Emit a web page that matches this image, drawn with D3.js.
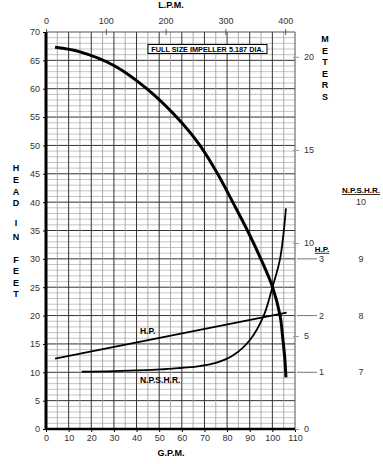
<!DOCTYPE html>
<html>
<head>
<meta charset="utf-8">
<script src="https://cdn.jsdelivr.net/npm/d3@7"></script>
<style>
  body { margin: 0; background: #fff; }
  svg text { font-family: "Liberation Sans", Arial, sans-serif; }
</style>
</head>
<body>
<div id="chart"></div>
<script>
// pump curve data
const gpmTicks = [0, 10, 20, 30, 40, 50, 60, 70, 80, 90, 100, 110];
const headTicks = [0, 5, 10, 15, 20, 25, 30, 35, 40, 45, 50, 55, 60, 65, 70];
const lpmTicks = [0, 100, 200, 300, 400];
const meterTicks = [0, 5, 10, 15, 20];
const hpTicks = [1, 2, 3];
const npshrTicks = [7, 8, 9, 10];

// head in feet vs gpm
const headGpm = [4, 15, 30, 44.5, 60, 68, 75.8, 82.5, 89.0, 94.9, 100.1, 103.4, 104.6, 105.5, 106];
const headFt = [67.3, 66.5, 64.1, 60, 54.0, 50, 45, 40, 35, 30, 25, 20, 16, 12.4, 9.1];

// horsepower vs gpm
const hpGpm = [4, 106.3];
const hpVal = [1.24, 2.05];

// npshr vs gpm
const npshrGpm = [15.8, 30, 50.4, 60, 68, 75.4, 82.7, 90.1, 96, 100.1, 103.4, 106];
const npshrVal = [7.01, 7.02, 7.05, 7.08, 7.11, 7.17, 7.30, 7.57, 7.98, 8.51, 9.00, 9.89];

const width = 383, height = 464;
const mLeft = 46, mRight = 295, mTop = 32, mBottom = 429;

const svg = d3.select("#chart").append("svg")
  .attr("width", width)
  .attr("height", height);

const x = d3.scaleLinear().domain([0, 110]).range([mLeft, mRight]);
const y = d3.scaleLinear().domain([0, 70]).range([mBottom, mTop]);
const xL = d3.scaleLinear().domain([0, 110 * 3.785]).range([mLeft, mRight]);
const yM = d3.scaleLinear().domain([0, 70 * 0.3048]).range([mBottom, mTop]);
const yHp = d3.scaleLinear().domain([0, 7]).range([mBottom, mTop]);
const yN = d3.scaleLinear().domain([6, 13]).range([mBottom, mTop]);

// grid
const grid = svg.append("g");
grid.selectAll(".hmin").data(d3.range(1, 70)).join("line")
  .attr("x1", mLeft).attr("x2", mRight)
  .attr("y1", d => y(d)).attr("y2", d => y(d))
  .attr("stroke", d => d % 5 === 0 ? "#333" : "#b5b5b5")
  .attr("stroke-width", d => d % 5 === 0 ? 1 : 0.8);
grid.selectAll(".vmin").data(d3.range(5, 110, 5)).join("line")
  .attr("y1", mTop).attr("y2", mBottom)
  .attr("x1", d => x(d)).attr("x2", d => x(d))
  .attr("stroke", d => d % 10 === 0 ? "#333" : "#999")
  .attr("stroke-width", d => d % 10 === 0 ? 1 : 0.8);

// frame
svg.append("line").attr("x1", mLeft).attr("x2", mRight).attr("y1", mTop).attr("y2", mTop)
  .attr("stroke", "#555");
svg.append("line").attr("x1", mRight).attr("x2", mRight).attr("y1", mTop).attr("y2", mBottom)
  .attr("stroke", "#555");

// bottom axis
const xAxis = svg.append("g").attr("transform", `translate(0,${mBottom})`)
  .call(d3.axisBottom(x).tickValues(gpmTicks).tickSize(3).tickPadding(3));
xAxis.select(".domain").remove();
xAxis.selectAll("text").attr("font-size", 9).attr("fill", "#333");

// left axis
const yAxis = svg.append("g").attr("transform", `translate(${mLeft},0)`)
  .call(d3.axisLeft(y).tickValues(headTicks).tickSize(3).tickPadding(3));
yAxis.select(".domain").remove();
yAxis.selectAll("text").attr("font-size", 9).attr("fill", "#333");

// top axis L.P.M.
const tAxis = svg.append("g").attr("transform", `translate(0,${mTop})`)
  .call(d3.axisTop(xL).tickValues(lpmTicks).tickSize(3).tickPadding(5));
tAxis.select(".domain").remove();
tAxis.selectAll("line").attr("y2", -3).attr("y1", 3).attr("stroke", "#555");
tAxis.selectAll("text").attr("font-size", 9).attr("fill", "#333");

// right axis meters
const mAxis = svg.append("g").attr("transform", `translate(${mRight},0)`)
  .call(d3.axisRight(yM).tickValues(meterTicks).tickSize(4).tickPadding(5));
mAxis.select(".domain").remove();
mAxis.selectAll("line").attr("stroke", "#999").attr("x1", -2);
mAxis.selectAll("text").attr("font-size", 9).attr("fill", "#333");

// H.P. axis
const hpG = svg.append("g");
hpG.selectAll("line").data(hpTicks).join("line")
  .attr("x1", mRight + 2).attr("x2", mRight + 22)
  .attr("y1", d => yHp(d)).attr("y2", d => yHp(d))
  .attr("stroke", "#777");
hpG.selectAll("text").data(hpTicks).join("text")
  .attr("x", mRight + 24).attr("y", d => yHp(d)).attr("dy", "0.35em")
  .attr("font-size", 9).attr("fill", "#333").text(d => d);
hpG.append("text").attr("x", mRight + 27).attr("y", yHp(3) - 7)
  .attr("text-anchor", "middle").attr("font-size", 8).attr("font-weight", "bold")
  .attr("text-decoration", "underline").text("H.P.");

// N.P.S.H.R. axis
const nG = svg.append("g");
nG.selectAll("text").data(npshrTicks).join("text")
  .attr("x", 361).attr("y", d => yN(d)).attr("dy", "0.35em")
  .attr("text-anchor", "middle").attr("font-size", 9).attr("fill", "#333").text(d => d);
nG.append("text").attr("x", 361).attr("y", yN(10) - 9)
  .attr("text-anchor", "middle").attr("font-size", 8).attr("font-weight", "bold")
  .attr("text-decoration", "underline").text("N.P.S.H.R.");

// thick axis lines
svg.append("line").attr("x1", mLeft).attr("x2", mLeft).attr("y1", mTop).attr("y2", mBottom + 1)
  .attr("stroke", "#000").attr("stroke-width", 3);
svg.append("line").attr("x1", mLeft).attr("x2", mRight).attr("y1", mBottom).attr("y2", mBottom)
  .attr("stroke", "#000").attr("stroke-width", 2.5);

// curves
const headLine = d3.line().x((d, i) => x(headGpm[i])).y(d => y(d)).curve(d3.curveCatmullRom.alpha(0.5));
svg.append("path").attr("d", headLine(headFt))
  .attr("fill", "none").attr("stroke", "#000").attr("stroke-width", 3);

const hpLine = d3.line().x((d, i) => x(hpGpm[i])).y(d => yHp(d));
svg.append("path").attr("d", hpLine(hpVal))
  .attr("fill", "none").attr("stroke", "#000").attr("stroke-width", 1.8);

const npLine = d3.line().x((d, i) => x(npshrGpm[i])).y(d => yN(d)).curve(d3.curveCatmullRom.alpha(0.5));
svg.append("path").attr("d", npLine(npshrVal))
  .attr("fill", "none").attr("stroke", "#000").attr("stroke-width", 1.8);

// curve labels
svg.append("text").attr("x", x(41.5)).attr("y", y(17.2)).attr("dy", "0.35em")
  .attr("font-size", 8.5).attr("font-weight", "bold").text("H.P.");
svg.append("text").attr("x", x(41.5)).attr("y", y(8.7)).attr("dy", "0.35em")
  .attr("font-size", 8.5).attr("font-weight", "bold").text("N.P.S.H.R.");

// impeller box
svg.append("rect").attr("x", 148).attr("y", 44.5).attr("width", 119).attr("height", 9)
  .attr("fill", "#fff").attr("stroke", "#000").attr("stroke-width", 1);
svg.append("text").attr("x", 207.5).attr("y", 49).attr("dy", "0.35em")
  .attr("text-anchor", "middle").attr("font-size", 7.3).attr("font-weight", "bold")
  .text("FULL SIZE IMPELLER 5.187 DIA.");

// axis titles
svg.append("text").attr("x", 171).attr("y", 5).attr("dy", "0.35em")
  .attr("text-anchor", "middle").attr("font-size", 9).attr("font-weight", "bold").text("L.P.M.");
svg.append("text").attr("x", 171).attr("y", 453).attr("dy", "0.35em")
  .attr("text-anchor", "middle").attr("font-size", 9).attr("font-weight", "bold").text("G.P.M.");

const vert = (letters, xs, ys) => {
  svg.append("g").selectAll("text").data(letters).join("text")
    .attr("x", xs).attr("y", (d, i) => ys[i]).attr("dy", "0.35em")
    .attr("text-anchor", "middle").attr("font-size", 9).attr("font-weight", "bold")
    .text(d => d);
};
vert(["M", "E", "T", "E", "R", "S"], 325, [39, 50.5, 62, 73.5, 85, 96.5]);
vert(["H", "E", "A", "D", "I", "N", "F", "E", "E", "T"], 16,
  [168, 180, 192, 203, 223, 237, 260, 271, 283, 294]);
</script>
</body>
</html>
